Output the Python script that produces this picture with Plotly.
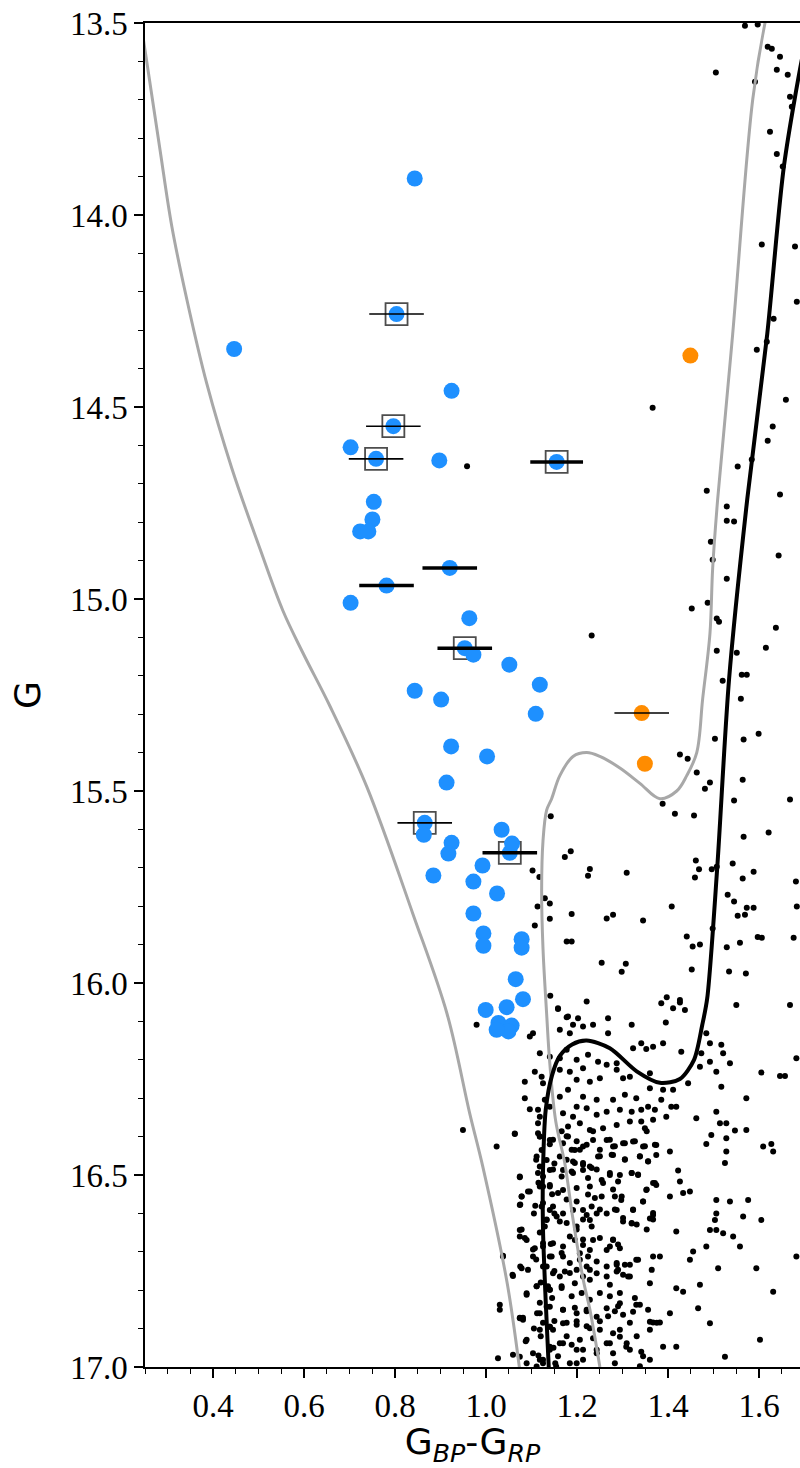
import plotly.graph_objects as go

# ---------------- data (colour G_BP-G_RP, magnitude G) ----------------
left_gray_color = [0.241, 0.250, 0.283, 0.309, 0.342, 0.386, 0.441, 0.503, 0.553, 0.597,
                   0.657, 0.738, 0.839, 0.914, 0.964, 0.993, 1.046, 1.074]
left_gray_g = [13.50, 13.57, 13.83, 14.03, 14.22, 14.44, 14.66, 14.87, 15.03, 15.14,
               15.28, 15.49, 15.82, 16.08, 16.34, 16.48, 16.78, 17.01]

right_gray_color = [1.250, 1.228, 1.213, 1.189, 1.173, 1.153, 1.140, 1.133, 1.125, 1.122,
                    1.125, 1.133, 1.144, 1.162, 1.191, 1.221, 1.250, 1.294, 1.338, 1.382,
                    1.419, 1.441, 1.463, 1.476, 1.492, 1.498, 1.509, 1.542, 1.586, 1.613, 1.615]
right_gray_g = [17.00, 16.85, 16.77, 16.60, 16.47, 16.36, 16.21, 16.08, 15.91, 15.76,
                15.63, 15.55, 15.52, 15.46, 15.41, 15.40, 15.41, 15.44, 15.48, 15.52,
                15.50, 15.46, 15.40, 15.26, 15.09, 14.92, 14.74, 14.31, 13.70, 13.50, 13.49]

black_iso_color = [1.138, 1.131, 1.125, 1.125, 1.131, 1.145, 1.162, 1.189, 1.221, 1.272,
                   1.331, 1.382, 1.426, 1.457, 1.475, 1.486, 1.508, 1.534, 1.574, 1.618,
                   1.655, 1.700, 1.713]
black_iso_g = [17.01, 16.83, 16.64, 16.49, 16.33, 16.24, 16.19, 16.16, 16.15, 16.17,
               16.23, 16.26, 16.25, 16.20, 16.11, 16.04, 15.70, 15.21, 14.74, 14.31,
               13.87, 13.56, 13.50]

# field stars: sparse upper part
field_upper_color = [
    1.569, 1.597, 1.619, 1.628, 1.646, 1.505, 1.639, 1.663, 1.591, 1.668, 1.672, 1.624, 1.639, 1.652,
    1.606, 1.679, 1.683, 1.632, 1.617, 1.595, 1.366, 1.659, 1.630, 1.619, 1.584, 1.553, 1.485, 1.646,
    0.958, 1.232,
    1.529, 1.529, 1.545, 1.494, 1.643, 1.498, 1.529, 1.452, 1.487, 1.507, 1.512, 1.637, 1.615, 1.507,
    1.551, 1.562, 1.573, 1.520, 1.560, 1.599, 1.503, 1.566, 1.426, 1.443, 1.463, 1.492, 1.481, 1.564,
    1.545, 1.668, 1.388, 1.415, 1.457, 1.621, 1.566, 1.461, 1.468, 1.459, 1.496, 1.507, 1.542, 1.564,
    1.588, 1.309, 1.681, 1.408, 1.531, 1.545, 1.573, 1.588, 1.553, 1.569, 1.683, 1.265, 1.279, 1.345,
    1.441, 1.454, 1.470, 1.498, 1.529, 1.558, 1.597, 1.606, 1.676, 1.254, 1.298, 1.307, 1.452, 1.534,
    1.571, 1.397, 1.426,
    1.142, 1.186, 1.173, 1.102, 1.117, 1.228, 1.224, 1.129, 1.140, 1.113, 1.140, 1.188, 1.107, 1.177,
    1.188, 1.141, 1.158, 1.177,
]
field_upper_g = [
    13.507, 13.504, 13.562, 13.567, 13.588, 13.629, 13.622, 13.635, 13.653, 13.692, 13.718, 13.783, 13.841, 13.874,
    14.077, 14.082, 14.226, 14.270, 14.330, 14.351, 14.502, 14.481, 14.551, 14.588, 14.637, 14.655, 14.718, 14.728,
    14.654, 15.095,
    14.759, 14.796, 14.798, 14.851, 14.887, 14.898, 14.947, 15.025, 15.010, 15.051, 15.059, 15.075, 15.127, 15.135,
    15.140, 15.197, 15.197, 15.213, 15.260, 15.351, 15.364, 15.366, 15.405, 15.416, 15.452, 15.478, 15.494, 15.471,
    15.525, 15.522, 15.533, 15.559, 15.564, 15.608, 15.619, 15.681, 15.704, 15.725, 15.704, 15.697, 15.689, 15.728,
    15.710, 15.713, 15.736, 15.801, 15.770, 15.788, 15.804, 15.804, 15.825, 15.822, 15.801, 15.832, 15.822, 15.837,
    15.879, 15.905, 15.900, 15.858, 15.907, 15.895, 15.880, 15.882, 15.882, 15.947, 15.971, 15.950, 15.965, 15.970,
    15.975, 16.037, 16.044,
    15.566, 15.657, 15.672, 15.707, 15.724, 15.703, 15.721, 15.779, 15.793, 15.801, 15.833, 15.820, 15.850, 15.892,
    15.892, 16.033, 16.068, 16.089,
]

# field stars: dense lower part (main sequence of the field)
field_lower_color = [
    1.158, 1.221, 1.385, 1.426, 1.437, 1.411, 1.550, 1.668, 1.180, 1.202, 1.191, 1.213, 1.235, 1.268,
    1.320, 1.395, 1.162, 1.184, 1.268, 1.103, 1.096, 0.979,
    1.118, 1.140, 1.162, 1.177, 1.199, 1.224, 1.246, 1.265, 1.287, 1.323, 1.341, 1.352, 1.367, 1.389,
    1.429, 1.484, 1.492, 1.517, 1.521, 1.473, 1.492, 1.536, 1.682,
    1.107, 1.122, 1.085, 1.162, 1.184, 1.199, 1.213, 1.228, 1.250, 1.287, 1.301, 1.316, 1.360, 1.389,
    1.444, 1.411, 1.360, 1.385, 1.330, 1.305, 1.279, 1.243, 1.213, 1.180, 1.162, 1.085, 1.470, 1.506,
    1.517, 1.572, 1.605, 1.646, 1.657,
    1.096, 1.114, 1.140, 1.169, 1.191, 1.199, 1.221, 1.243, 1.265, 1.294, 1.320, 1.341, 1.356, 1.371,
    1.396, 1.407, 1.418, 1.462, 1.506, 1.514, 1.528, 1.547, 1.572, 1.180, 1.206, 1.228, 1.257, 1.287,
    1.316, 1.341, 1.349, 1.367, 1.114, 0.949, 1.063,
    1.118, 1.140, 1.169, 1.180, 1.195, 1.213, 1.235, 1.265, 1.279, 1.301, 1.323, 1.345, 1.374, 1.404,
    1.484, 1.495, 1.528, 1.528, 1.525, 1.609, 1.627, 1.631, 1.023, 1.111, 1.133, 1.162, 1.191, 1.213,
    1.246, 1.279, 1.305, 1.338, 1.356, 1.374,
    1.074, 1.114, 1.125, 1.140, 1.169, 1.191, 1.213, 1.228, 1.254, 1.272, 1.294, 1.320, 1.334, 1.367,
    1.374, 1.422, 1.426, 1.448, 1.433, 1.404, 1.352, 1.096, 1.078, 1.118, 1.140, 1.169, 1.199, 1.228,
    1.254, 1.283, 1.297, 1.345,
    1.074, 1.125, 1.140, 1.169, 1.191, 1.213, 1.221, 1.243, 1.265, 1.287, 1.323, 1.367, 1.360, 1.506,
    1.536, 1.576, 1.506, 1.503, 1.565, 1.605, 1.133, 1.162, 1.199, 1.228, 1.301, 1.320, 1.418, 1.074,
    1.074,
    1.089, 1.125, 1.147, 1.169, 1.195, 1.213, 1.235, 1.279, 1.294, 1.265, 1.228, 1.206, 1.169, 1.140,
    1.107, 1.103, 1.037, 1.330, 1.367, 1.382, 1.455, 1.448, 1.484, 1.492, 1.506, 1.521, 1.543, 1.558,
    1.682, 1.316, 1.287,
    1.078, 1.092, 1.059, 1.125, 1.147, 1.173, 1.199, 1.221, 1.243, 1.265, 1.287, 1.301, 1.228, 1.195,
    1.166, 1.140, 1.111, 1.089, 1.272, 1.316, 1.360, 1.418, 1.433, 1.470, 1.510, 1.594, 1.631,
    1.030, 1.030, 1.074, 1.081, 1.118, 1.140, 1.169, 1.199, 1.221, 1.243, 1.265, 1.294, 1.301, 1.330,
    1.323, 1.360, 1.367, 1.382, 1.404, 1.466, 1.492, 1.140, 1.169, 1.199, 1.228, 1.250, 1.279, 1.294,
    1.118,
    1.089, 1.026, 1.059, 1.074, 1.103, 1.118, 1.140, 1.169, 1.188, 1.213, 1.243, 1.272, 1.308, 1.341,
    1.360, 1.389, 1.418, 1.525, 1.602, 1.111, 1.154, 1.199,
    1.125, 1.129, 1.118, 1.114, 1.122, 1.118, 1.125, 1.122, 1.129, 1.125, 1.133, 1.136, 1.133, 1.140,
    1.140, 1.125,
]
field_lower_g = [
    16.066, 16.048, 16.053, 16.051, 16.070, 16.066, 16.057, 16.057, 16.087, 16.092, 16.109, 16.113, 16.109, 16.092,
    16.109, 16.103, 16.122, 16.131, 16.131, 16.131, 16.139, 16.109,
    16.183, 16.192, 16.196, 16.174, 16.200, 16.187, 16.205, 16.213, 16.209, 16.170, 16.157, 16.172, 16.166, 16.157,
    16.179, 16.131, 16.157, 16.161, 16.183, 16.183, 16.205, 16.209, 16.196,
    16.231, 16.244, 16.257, 16.226, 16.231, 16.252, 16.222, 16.257, 16.248, 16.226, 16.248, 16.244, 16.235, 16.278,
    16.261, 16.278, 16.274, 16.304, 16.300, 16.291, 16.304, 16.304, 16.296, 16.278, 16.296, 16.300, 16.218, 16.231,
    16.270, 16.300, 16.233, 16.242, 16.242,
    16.329, 16.330, 16.322, 16.339, 16.348, 16.322, 16.326, 16.343, 16.335, 16.330, 16.335, 16.330, 16.322, 16.330,
    16.348, 16.322, 16.322, 16.352, 16.335, 16.365, 16.365, 16.384, 16.383, 16.374, 16.365, 16.383, 16.378, 16.370,
    16.361, 16.361, 16.378, 16.356, 16.365, 16.383, 16.393,
    16.400, 16.409, 16.417, 16.400, 16.435, 16.426, 16.409, 16.409, 16.426, 16.417, 16.413, 16.426, 16.422, 16.439,
    16.419, 16.396, 16.404, 16.439, 16.469, 16.426, 16.419, 16.439, 16.426, 16.452, 16.461, 16.452, 16.465, 16.469,
    16.452, 16.448, 16.459, 16.452, 16.465, 16.448,
    16.506, 16.495, 16.504, 16.487, 16.487, 16.495, 16.487, 16.478, 16.513, 16.500, 16.500, 16.495, 16.500, 16.521,
    16.526, 16.488, 16.517, 16.543, 16.547, 16.556, 16.539, 16.543, 16.556, 16.530, 16.526, 16.539, 16.534, 16.530,
    16.556, 16.556, 16.565, 16.569,
    16.578, 16.573, 16.591, 16.600, 16.591, 16.591, 16.604, 16.600, 16.600, 16.591, 16.591, 16.604, 16.613, 16.565,
    16.569, 16.565, 16.600, 16.617, 16.608, 16.617, 16.617, 16.621, 16.634, 16.617, 16.621, 16.626, 16.647, 16.643,
    16.660,
    16.669, 16.678, 16.678, 16.686, 16.669, 16.682, 16.669, 16.669, 16.691, 16.695, 16.695, 16.704, 16.712, 16.712,
    16.691, 16.712, 16.712, 16.721, 16.712, 16.712, 16.699, 16.721, 16.686, 16.643, 16.643, 16.652, 16.660, 16.686,
    16.712, 16.734, 16.734,
    16.743, 16.747, 16.763, 16.738, 16.756, 16.751, 16.747, 16.738, 16.756, 16.764, 16.751, 16.760, 16.773, 16.782,
    16.790, 16.799, 16.790, 16.808, 16.786, 16.764, 16.782, 16.795, 16.804, 16.786, 16.743, 16.743, 16.804,
    16.838, 16.851, 16.873, 16.877, 16.860, 16.843, 16.851, 16.860, 16.851, 16.869, 16.847, 16.834, 16.864, 16.838,
    16.856, 16.882, 16.884, 16.884, 16.860, 16.847, 16.886, 16.895, 16.886, 16.890, 16.899, 16.903, 16.912, 16.921,
    16.903,
    16.929, 16.977, 16.968, 16.973, 16.964, 16.981, 16.955, 16.938, 16.942, 16.955, 16.964, 16.938, 16.947, 16.960,
    16.981, 16.947, 16.947, 16.973, 16.929, 16.999, 16.999, 16.990,
    16.261, 16.304, 16.348, 16.391, 16.435, 16.478, 16.530, 16.582, 16.634, 16.686, 16.738, 16.790, 16.843, 16.895,
    16.947, 16.990,
]

# field stars: extra stars of the crowded core (x 1.03-1.38, G 16.38-17.0)
field_core_color = [
    1.063, 1.147, 1.177, 1.199, 1.221, 1.250, 1.272, 1.283, 1.305, 1.327, 1.349, 1.353, 1.371, 1.188,
    1.206, 1.235, 1.166,
    1.177, 1.195, 1.213, 1.232, 1.250, 1.276, 1.305, 1.338, 1.356, 1.147, 1.166, 1.188, 1.224, 1.243,
    1.272, 1.290, 1.320, 1.334, 1.371, 1.074,
    1.092, 1.078, 1.075, 1.140, 1.158, 1.177, 1.199, 1.224, 1.239, 1.250, 1.232, 1.257, 1.279, 1.298,
    1.283, 1.323, 1.345, 1.367, 1.353, 1.147,
    1.078, 1.085, 1.133, 1.155, 1.177, 1.199, 1.213, 1.232, 1.213, 1.184, 1.250, 1.272, 1.301, 1.320,
    1.331, 1.279, 1.290, 1.353, 1.367,
    1.037, 1.075, 1.058, 1.103, 1.144, 1.166, 1.184, 1.206, 1.224, 1.243, 1.265, 1.287, 1.305, 1.312,
    1.290, 1.334, 1.364, 1.184, 1.162, 1.213, 1.228,
    1.089, 1.111, 1.140, 1.166, 1.188, 1.210, 1.228, 1.250, 1.272, 1.294, 1.327, 1.338, 1.356, 1.290,
    1.195, 1.169, 1.221, 1.118,
    1.074, 1.081, 1.125, 1.147, 1.177, 1.199, 1.221, 1.250, 1.268, 1.283, 1.294, 1.316, 1.360, 1.375,
    1.177, 1.206, 1.162, 1.235, 1.265, 1.331, 1.309,
    1.087, 1.089, 1.125, 1.158, 1.184, 1.213, 1.243, 1.279, 1.283, 1.316, 1.345, 1.338, 1.199,
    1.118, 1.140, 1.110, 1.150, 1.115, 1.145, 1.108, 1.150, 1.118, 1.142, 1.110, 1.150, 1.120, 1.145,
    1.112, 1.150, 1.120, 1.148, 1.115, 1.152, 1.105, 1.105,
]
field_core_g = [
    16.392, 16.408, 16.399, 16.412, 16.421, 16.434, 16.408, 16.425, 16.417, 16.412, 16.425, 16.386, 16.421, 16.434,
    16.434, 16.386, 16.386,
    16.460, 16.469, 16.473, 16.482, 16.451, 16.447, 16.460, 16.451, 16.464, 16.486, 16.504, 16.491, 16.508, 16.486,
    16.495, 16.517, 16.495, 16.499, 16.521, 16.504,
    16.543, 16.556, 16.577, 16.530, 16.547, 16.564, 16.569, 16.551, 16.560, 16.590, 16.582, 16.521, 16.538, 16.556,
    16.590, 16.590, 16.569, 16.599, 16.538, 16.582,
    16.642, 16.664, 16.616, 16.608, 16.625, 16.642, 16.616, 16.634, 16.668, 16.660, 16.664, 16.686, 16.612, 16.625,
    16.629, 16.668, 16.681, 16.642, 16.616,
    16.710, 16.738, 16.760, 16.694, 16.712, 16.703, 16.729, 16.721, 16.712, 16.725, 16.738, 16.729, 16.734, 16.764,
    16.747, 16.721, 16.747, 16.755, 16.764, 16.764, 16.747,
    16.812, 16.790, 16.799, 16.794, 16.816, 16.807, 16.825, 16.807, 16.816, 16.807, 16.820, 16.838, 16.851, 16.842,
    16.846, 16.851, 16.855, 16.833,
    16.872, 16.872, 16.885, 16.903, 16.885, 16.881, 16.894, 16.881, 16.868, 16.855, 16.903, 16.885, 16.903, 16.885,
    16.920, 16.929, 16.938, 16.925, 16.938, 16.920, 16.938,
    16.933, 16.990, 16.981, 16.972, 16.990, 16.981, 16.955, 16.964, 16.990, 16.955, 16.972, 16.998, 16.955,
    16.400, 16.420, 16.460, 16.470, 16.520, 16.550, 16.580, 16.600, 16.650, 16.680, 16.720, 16.750, 16.780, 16.820,
    16.860, 16.880, 16.920, 16.950, 16.970, 16.990, 16.600, 16.900,
]

# cluster members (blue)
member_color = [0.843, 0.803, 0.446, 0.924, 0.796, 0.702, 0.758, 0.897, 1.155, 0.753,
                0.750, 0.723, 0.741, 0.920, 0.781, 0.702, 0.963, 0.953, 0.972, 1.051,
                0.843, 1.118, 0.901, 1.109, 0.923, 1.002, 0.913, 0.865, 0.863, 1.034,
                0.924, 0.917, 1.052, 1.057, 0.992, 0.884, 0.972, 1.024, 0.972, 0.994,
                1.078, 0.994, 1.078, 1.065, 1.081, 0.999, 1.045, 1.027, 1.056, 1.049,
                1.023]
member_g = [13.905, 14.258, 14.349, 14.458, 14.550, 14.605, 14.635, 14.639, 14.643, 14.747,
            14.793, 14.824, 14.824, 14.919, 14.965, 15.010, 15.050, 15.128, 15.145, 15.171,
            15.239, 15.223, 15.262, 15.299, 15.384, 15.410, 15.478, 15.583, 15.614, 15.601,
            15.635, 15.663, 15.661, 15.637, 15.694, 15.720, 15.736, 15.767, 15.819, 15.871,
            15.886, 15.903, 15.908, 15.990, 16.042, 16.070, 16.063, 16.104, 16.111, 16.126,
            16.122]

# orange stars
orange_color = [1.449, 1.342, 1.349]
orange_g = [14.366, 15.297, 15.429]

# stars marked with open squares
boxed_color = [0.803, 0.796, 0.758, 1.155, 0.953, 0.865, 1.052]
boxed_g = [14.258, 14.550, 14.635, 14.643, 15.128, 15.583, 15.661]

# horizontal colour error bars
thin_err_color = [0.803, 0.796, 0.758, 0.865, 1.342]
thin_err_g = [14.258, 14.550, 14.635, 15.583, 15.297]
thin_err_size = [0.06, 0.06, 0.06, 0.06, 0.06]

thick_err_color = [1.155, 0.920, 0.781, 0.953, 1.052]
thick_err_g = [14.643, 14.919, 14.965, 15.128, 15.661]
thick_err_size = [0.058, 0.06, 0.06, 0.06, 0.06]

x_tick_vals = [0.4, 0.6, 0.8, 1.0, 1.2, 1.4, 1.6]
x_tick_text = ["0.4", "0.6", "0.8", "1.0", "1.2", "1.4", "1.6"]
y_tick_vals = [13.5, 14.0, 14.5, 15.0, 15.5, 16.0, 16.5, 17.0]
y_tick_text = ["13.5", "14.0", "14.5", "15.0", "15.5", "16.0", "16.5", "17.0"]

# ---------------- figure ----------------
fig = go.Figure()

field_marker = dict(color="black", size=6, line=dict(width=0))
for fx, fy in ((field_upper_color, field_upper_g),
               (field_lower_color, field_lower_g),
               (field_core_color, field_core_g)):
    fig.add_trace(go.Scatter(x=fx, y=fy, mode="markers", marker=field_marker,
                             hoverinfo="skip", showlegend=False))

gray_line = dict(color="#a8a8a8", width=3, shape="spline", smoothing=1.0)
fig.add_trace(go.Scatter(x=left_gray_color, y=left_gray_g, mode="lines",
                         line=gray_line, showlegend=False))
fig.add_trace(go.Scatter(x=right_gray_color, y=right_gray_g, mode="lines",
                         line=gray_line, showlegend=False))
fig.add_trace(go.Scatter(x=black_iso_color, y=black_iso_g, mode="lines",
                         line=dict(color="black", width=4, shape="spline", smoothing=0.8),
                         showlegend=False))
fig.add_trace(go.Scatter(x=boxed_color, y=boxed_g, mode="markers",
                         marker=dict(symbol="square-open", size=22, color="#4d4d4d",
                                     line=dict(width=1.8, color="#4d4d4d")),
                         showlegend=False))
fig.add_trace(go.Scatter(x=member_color, y=member_g, mode="markers",
                         marker=dict(color="#1E90FF", size=16, line=dict(width=0)),
                         showlegend=False))
fig.add_trace(go.Scatter(x=orange_color, y=orange_g, mode="markers",
                         marker=dict(color="#FF8C00", size=16, line=dict(width=0)),
                         showlegend=False))
fig.add_trace(go.Scatter(x=thin_err_color, y=thin_err_g, mode="markers",
                         marker=dict(size=1, opacity=0),
                         error_x=dict(type="data", array=thin_err_size, color="black",
                                      thickness=1.6, width=0),
                         showlegend=False))
fig.add_trace(go.Scatter(x=thick_err_color, y=thick_err_g, mode="markers",
                         marker=dict(size=1, opacity=0),
                         error_x=dict(type="data", array=thick_err_size, color="black",
                                      thickness=3.5, width=0),
                         showlegend=False))

tick_font = dict(family="Liberation Serif", size=33, color="black")
title_font = dict(family="DejaVu Sans", size=36, color="black")

fig.update_layout(
    width=800, height=1468,
    margin=dict(l=145, r=0, t=23, b=101),
    plot_bgcolor="white", paper_bgcolor="white",
    showlegend=False,
    xaxis=dict(range=[0.25, 1.69], showgrid=False, zeroline=False,
               showline=True, linecolor="black", linewidth=1.5, mirror=True,
               ticks="outside", ticklen=9, tickwidth=1.5, tickcolor="black",
               tickvals=x_tick_vals, ticktext=x_tick_text, tickfont=tick_font,
               minor=dict(dtick=0.05, tick0=0.25, ticks="outside", ticklen=5,
                          tickwidth=1.2, tickcolor="black", showgrid=False),
               title=dict(text="G<sub><i>BP</i></sub>-G<sub><i>RP</i></sub>",
                          font=title_font, standoff=4)),
    yaxis=dict(range=[17.0, 13.5], showgrid=False, zeroline=False,
               showline=True, linecolor="black", linewidth=1.5, mirror=False,
               ticks="outside", ticklen=9, tickwidth=1.5, tickcolor="black",
               tickvals=y_tick_vals, ticktext=y_tick_text, tickfont=tick_font,
               minor=dict(dtick=0.1, tick0=13.5, ticks="outside", ticklen=5,
                          tickwidth=1.2, tickcolor="black", showgrid=False),
               title=dict(text="G", font=title_font, standoff=18)),
)

fig.write_html("out.html")
